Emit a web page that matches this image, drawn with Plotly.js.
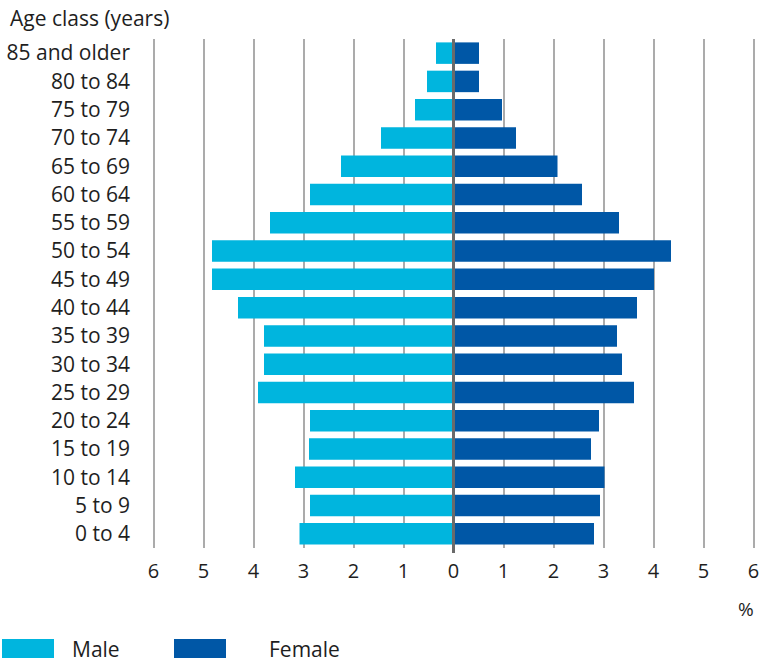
<!DOCTYPE html>
<html>
<head>
<meta charset="utf-8">
<script src="https://cdn.plot.ly/plotly-3.0.1.min.js"></script>
<style>html,body{margin:0;padding:0;background:#fff;}#chart{width:761px;height:664px;}</style>
</head>
<body>
<div id="chart"></div>
<script>
const ageClasses = ["0 to 4","5 to 9","10 to 14","15 to 19","20 to 24","25 to 29","30 to 34","35 to 39","40 to 44","45 to 49","50 to 54","55 to 59","60 to 64","65 to 69","70 to 74","75 to 79","80 to 84","85 and older"];
const male   = [3.08, 2.87, 3.17, 2.89, 2.87, 3.91, 3.79, 3.79, 4.31, 4.83, 4.83, 3.67, 2.87, 2.25, 1.45, 0.77, 0.53, 0.35];
const female = [2.81, 2.93, 3.02, 2.75, 2.91, 3.61, 3.37, 3.27, 3.67, 4.01, 4.35, 3.31, 2.57, 2.08, 1.25, 0.97, 0.51, 0.51];
const tickValues = [-6,-5,-4,-3,-2,-1,0,1,2,3,4,5,6];
const tickLabels = ["6","5","4","3","2","1","0","1","2","3","4","5","6"];

const maleColor = "#00B5DE";
const femaleColor = "#0057A6";
const fontFam = "Open Sans, sans-serif";
const txtColor = "#1e1e1e";
const PW = 605, PH = 509;

const traces = [
  {type:"bar", orientation:"h", name:"Male", y:ageClasses, x:male.map(v=>-v),
   marker:{color:maleColor}, width:0.76, showlegend:false},
  {type:"bar", orientation:"h", name:"Female", y:ageClasses, x:female,
   marker:{color:femaleColor}, width:0.76, showlegend:false}
];

const layout = {
  width:761, height:664,
  margin:{l:151, r:5, t:39, b:116},
  paper_bgcolor:"#fff", plot_bgcolor:"#fff",
  barmode:"relative",
  font:{family:fontFam, size:20, color:txtColor},
  xaxis:{range:[-6.05,6.05], tickvals:tickValues, ticktext:tickLabels, showgrid:true,
         gridcolor:"#ababab", gridwidth:2, zeroline:false, showline:false,
         ticks:"", ticklabelstandoff:9, fixedrange:true,
         tickfont:{family:fontFam, size:20, color:txtColor}},
  yaxis:{type:"category", categoryorder:"array", categoryarray:ageClasses,
         range:[-0.5, 17.5], showgrid:false, zeroline:false, showline:false,
         ticks:"", ticklabelstandoff:20, fixedrange:true,
         tickfont:{family:fontFam, size:21, color:txtColor}},
  shapes:[
    {type:"line", xref:"x", yref:"paper", x0:0, x1:0, y0:-0.01, y1:1, layer:"above",
     line:{color:"#6a6a6a", width:3}},
    {type:"rect", xref:"paper", yref:"paper", x0:-149/PW, x1:-97/PW, y0:-110/PH, y1:-91/PH,
     fillcolor:maleColor, line:{width:0}},
    {type:"rect", xref:"paper", yref:"paper", x0:23/PW, x1:75/PW, y0:-110/PH, y1:-91/PH,
     fillcolor:femaleColor, line:{width:0}}
  ],
  annotations:[
    {text:"Age class (years)", xref:"paper", yref:"paper", x:-143/PW, y:1+21/PH,
     xanchor:"left", yanchor:"middle", showarrow:false, font:{family:fontFam, size:21, color:txtColor}},
    {text:"%", xref:"paper", yref:"paper", x:1, y:-61/PH,
     xanchor:"right", yanchor:"middle", showarrow:false, font:{family:fontFam, size:19, color:txtColor}},
    {text:"Male", xref:"paper", yref:"paper", x:-81/PW, y:-101/PH,
     xanchor:"left", yanchor:"middle", showarrow:false, font:{family:fontFam, size:21, color:txtColor}},
    {text:"Female", xref:"paper", yref:"paper", x:116/PW, y:-101/PH,
     xanchor:"left", yanchor:"middle", showarrow:false, font:{family:fontFam, size:21, color:txtColor}}
  ]
};

Plotly.newPlot("chart", traces, layout, {displayModeBar:false, staticPlot:true});
</script>
</body>
</html>
